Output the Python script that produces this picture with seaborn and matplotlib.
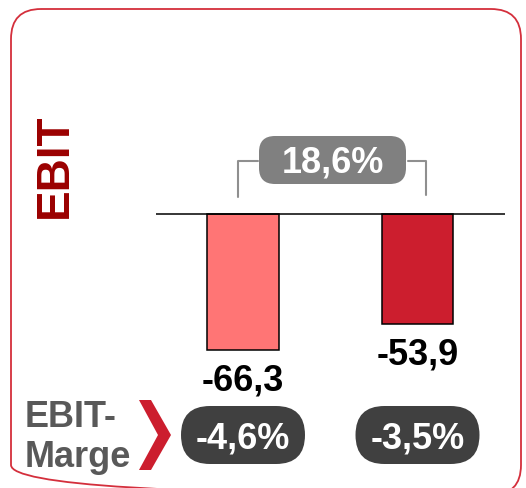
import matplotlib
matplotlib.use("Agg")
import matplotlib.pyplot as plt
from matplotlib.patches import FancyBboxPatch, Polygon
import matplotlib.transforms as mtransforms
import seaborn as sns

# data
periods = ["Periode 1", "Periode 2"]
ebit = [-66.3, -53.9]
ebit_labels = ["-66,3", "-53,9"]
margins = ["-4,6%", "-3,5%"]
change_label = "18,6%"
bar_colors = ["#FF7575", "#CC1E2E"]

sns.set_style("white")
plt.rcParams['font.family'] = ['Liberation Sans', 'DejaVu Sans']

fig = plt.figure(figsize=(5.26, 4.88), dpi=100)

# overlay in pixel coordinates for the frame and decorations
deco = fig.add_axes([0, 0, 1, 1])
deco.set_xlim(0, 526)
deco.set_ylim(488, 0)
deco.set_axis_off()

# rounded red frame (bottom edge just below the picture)
frame = FancyBboxPatch((11, 9), 510, 486, boxstyle="round,pad=0,rounding_size=30",
                       fill=False, edgecolor="#D42F3C", linewidth=1.3)
deco.add_patch(frame)

# main axes for the bars
ax = fig.add_axes([155.75 / 526, 0, 349 / 526, 1])
ax.patch.set_alpha(0)
sns.barplot(x=periods, y=ebit, hue=periods, palette=bar_colors, width=0.41,
            saturation=1, edgecolor="black", linewidth=1.1, legend=False, ax=ax)
ax.set_xlim(-0.5, 1.5)
ax.set_ylim(-(488 - 214) / 2.05, 214 / 2.05)
ax.axhline(0, color="black", linewidth=1.1, zorder=5)
ax.set_axis_off()

# value labels below the bars
for i, (v, lab) in enumerate(zip(ebit, ebit_labels)):
    ax.annotate(lab, xy=(i, v), xytext=(0, -29), textcoords="offset points",
                ha="center", va="baseline", fontsize=26, fontweight="bold", color="black")

# bracket and change pill
deco.plot([238, 238, 258], [197, 161, 161], color="#8F8F8F", linewidth=1.5)
deco.plot([408, 426, 426], [161, 161, 195], color="#8F8F8F", linewidth=1.5)
deco.add_patch(FancyBboxPatch((259, 136), 147, 48, boxstyle="round,pad=0,rounding_size=16",
                              facecolor="#808080", edgecolor="none"))
deco.text(332.5, 173, change_label, ha="center", va="baseline", fontsize=26,
          fontweight="bold", color="white")

# EBIT title
deco.text(55, 166, "EBIT", rotation=90, ha="center", va="center", fontsize=33,
          fontweight="bold", color="#9B0000")

# EBIT-Marge row
deco.text(25, 427, "EBIT-", ha="left", va="baseline", fontsize=26,
          fontweight="bold", color="#595959")
deco.text(25, 467, "Marge", ha="left", va="baseline", fontsize=26,
          fontweight="bold", color="#595959")
deco.add_patch(Polygon([(139, 400), (151, 400), (171, 435), (151, 470), (139, 470), (158, 435)],
                       closed=True, facecolor="#CC1E2E", edgecolor="none"))

trans = mtransforms.blended_transform_factory(ax.transData, deco.transData)
for i, m in enumerate(margins):
    cx = trans.transform((i, 0))[0]
    cx = deco.transData.inverted().transform((cx, 0))[0]
    deco.add_patch(FancyBboxPatch((cx - 62, 406), 124, 58, boxstyle="round,pad=0,rounding_size=29",
                                  facecolor="#404040", edgecolor="none"))
    deco.text(cx, 448, m, ha="center", va="baseline", fontsize=26,
              fontweight="bold", color="white")

fig.savefig("out.png", dpi=100)
